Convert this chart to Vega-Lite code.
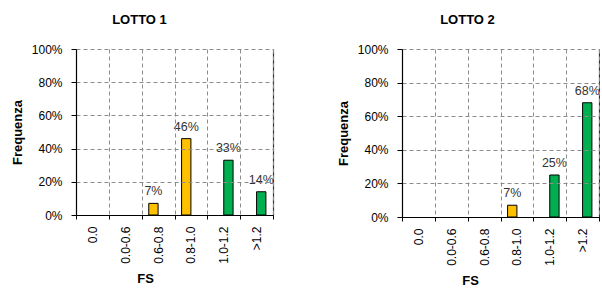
{
  "$schema": "https://vega.github.io/schema/vega-lite/v6.json",
  "padding": {"left": 11, "top": 14, "right": 0, "bottom": 0},
  "spacing": 63,
  "config": {
    "font": "Liberation Sans",
    "view": {"stroke": null},
    "axis": {
      "labelFont": "Liberation Sans", "titleFont": "Liberation Sans",
      "labelColor": "#000", "titleColor": "#000",
      "labelFontSize": 12, "titleFontSize": 13, "titleFontWeight": "bold",
      "domainColor": "#000", "tickColor": "#000", "domainWidth": 1.2,
      "gridColor": "#8c8c8c", "gridDash": [4, 3], "gridWidth": 1, "gridOpacity": 1
    },
    "title": {"font": "Liberation Sans", "fontSize": 13, "fontWeight": "bold", "color": "#000"}
  },
  "data": {"values": [
    {"lotto": "LOTTO 1", "fs": "0.6-0.8", "v": 0.07, "s": "A"},
    {"lotto": "LOTTO 1", "fs": "0.8-1.0", "v": 0.46, "s": "A"},
    {"lotto": "LOTTO 1", "fs": "1.0-1.2", "v": 0.33, "s": "B"},
    {"lotto": "LOTTO 1", "fs": ">1.2", "v": 0.14, "s": "B"},
    {"lotto": "LOTTO 2", "fs": "0.8-1.0", "v": 0.07, "s": "A"},
    {"lotto": "LOTTO 2", "fs": "1.0-1.2", "v": 0.25, "s": "B"},
    {"lotto": "LOTTO 2", "fs": ">1.2", "v": 0.68, "s": "B"}
  ]},
  "hconcat": [
    {
      "width": 197, "height": 166,
      "title": {"text": "LOTTO 1", "anchor": "middle", "frame": "group", "dx": -35, "offset": 16},
      "transform": [{"filter": "datum.lotto === 'LOTTO 1'"}],
      "encoding": {
        "x": {"field": "fs", "type": "nominal", "sort": null,
          "scale": {"domain": ["0.0", "0.0-0.6", "0.6-0.8", "0.8-1.0", "1.0-1.2", ">1.2"], "paddingInner": 0, "paddingOuter": 0},
          "axis": {"title": "FS", "labelAngle": -90, "labelAlign": "right", "labelBaseline": "middle", "tickBand": "extent", "tickSize": 4, "labelPadding": 7, "titlePadding": 9, "titleX": 69, "grid": true, "zindex": 1}},
        "xOffset": {"field": "s", "type": "nominal", "scale": {"domain": ["A", "B"], "paddingInner": 0, "paddingOuter": 0.76}},
        "y": {"field": "v", "type": "quantitative", "scale": {"domain": [0, 1]}}
      },
      "layer": [
        {
          "mark": {"type": "bar", "stroke": "#000", "strokeWidth": 1},
          "encoding": {
            "y": {"field": "v", "type": "quantitative", "scale": {"domain": [0, 1]},
              "axis": {"title": "Frequenza", "values": [0, 0.2, 0.4, 0.6, 0.8, 1], "format": ".0%", "tickSize": 5, "labelPadding": 9, "titlePadding": 7, "grid": true, "zindex": 1}},
            "color": {"field": "s", "type": "nominal", "scale": {"domain": ["A", "B"], "range": ["#FFC000", "#00B050"]}, "legend": null}
          }
        },
        {
          "mark": {"type": "text", "baseline": "alphabetic", "dy": -8, "fontSize": 12.5, "color": "#333"},
          "encoding": {
            "y": {"field": "v", "type": "quantitative", "scale": {"domain": [0, 1]},
              "axis": {"orient": "right", "title": null, "labels": false, "ticks": false, "grid": false, "domainColor": "#333", "domainWidth": 1.2}},
            "text": {"field": "v", "type": "quantitative", "format": ".0%"}
          }
        }
      ],
      "resolve": {"axis": {"y": "independent"}}
    },
    {
      "width": 197, "height": 168,
      "title": {"text": "LOTTO 2", "anchor": "middle", "frame": "group", "dx": -33, "offset": 16},
      "transform": [{"filter": "datum.lotto === 'LOTTO 2'"}],
      "encoding": {
        "x": {"field": "fs", "type": "nominal", "sort": null,
          "scale": {"domain": ["0.0", "0.0-0.6", "0.6-0.8", "0.8-1.0", "1.0-1.2", ">1.2"], "paddingInner": 0, "paddingOuter": 0},
          "axis": {"title": "FS", "labelAngle": -90, "labelAlign": "right", "labelBaseline": "middle", "tickBand": "extent", "tickSize": 4, "labelPadding": 7, "titlePadding": 9, "titleX": 68, "grid": true, "zindex": 1}},
        "xOffset": {"field": "s", "type": "nominal", "scale": {"domain": ["A", "B"], "paddingInner": 0, "paddingOuter": 0.76}},
        "y": {"field": "v", "type": "quantitative", "scale": {"domain": [0, 1]}}
      },
      "layer": [
        {
          "mark": {"type": "bar", "stroke": "#000", "strokeWidth": 1},
          "encoding": {
            "y": {"field": "v", "type": "quantitative", "scale": {"domain": [0, 1]},
              "axis": {"title": "Frequenza", "values": [0, 0.2, 0.4, 0.6, 0.8, 1], "format": ".0%", "tickSize": 5, "labelPadding": 9, "titlePadding": 7, "grid": true, "zindex": 1}},
            "color": {"field": "s", "type": "nominal", "scale": {"domain": ["A", "B"], "range": ["#FFC000", "#00B050"]}, "legend": null}
          }
        },
        {
          "mark": {"type": "text", "baseline": "alphabetic", "dy": -8, "fontSize": 12.5, "color": "#333"},
          "encoding": {
            "y": {"field": "v", "type": "quantitative", "scale": {"domain": [0, 1]},
              "axis": {"orient": "right", "title": null, "labels": false, "ticks": false, "grid": false, "domainColor": "#333", "domainWidth": 1.2}},
            "text": {"field": "v", "type": "quantitative", "format": ".0%"}
          }
        }
      ],
      "resolve": {"axis": {"y": "independent"}}
    }
  ]
}
